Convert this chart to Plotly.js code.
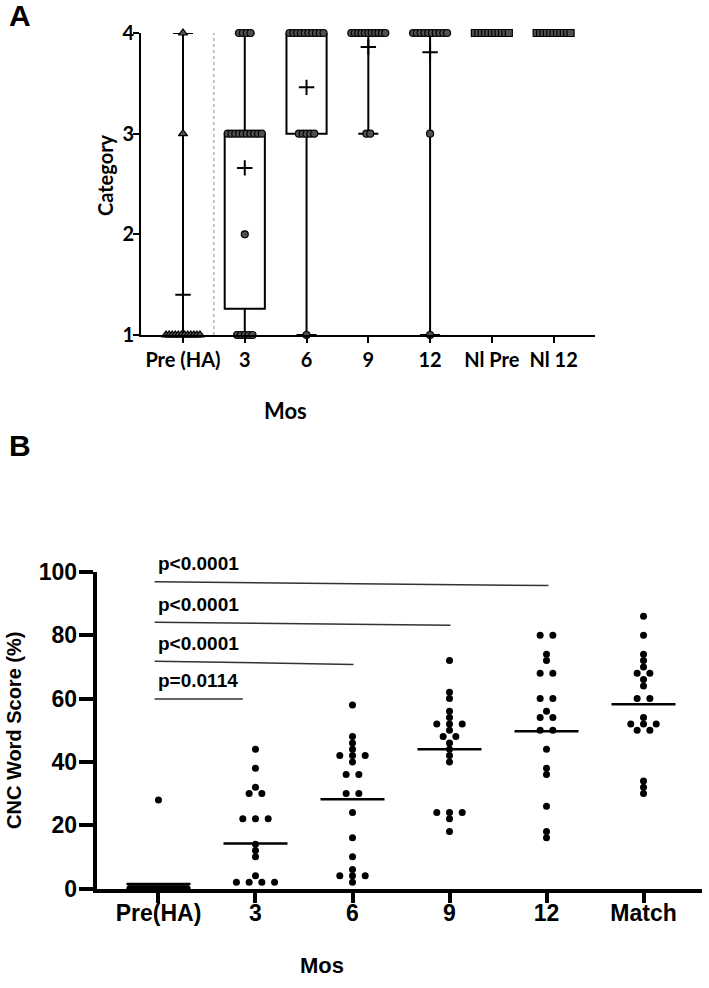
<!DOCTYPE html>
<html><head><meta charset="utf-8">
<script src="https://cdn.plot.ly/plotly-3.0.1.min.js"></script>
<style>html,body{margin:0;padding:0;background:#fff}</style>
</head><body><div id="chart" style="width:709px;height:988px"></div>
<script>
// ---------- Panel A data ----------
const catA = ["Pre (HA)", "3", "6", "9", "12", "Nl Pre", "Nl 12"];
const levelsA = [1, 2, 3, 4];
// number of subjects at category 1,2,3,4
const countsPre = [12, 0, 1, 1];
const counts3 = [5, 1, 10, 4];
const counts6 = [1, 0, 5, 10];
const counts9 = [0, 0, 2, 11];
const counts12 = [1, 0, 1, 10];
const countsNlPre = [0, 0, 0, 11];
const countsNl12 = [0, 0, 0, 11];
// box statistics (Pre, 3, 6, 9, 12)
const boxQ1 = [1, 1.26, 3, 4, 4];
const boxMedian = [1, 3, 4, 4, 4];
const boxQ3 = [1, 3, 4, 4, 4];
const boxLow = [1, 1, 1, 3, 1];
const boxHigh = [4, 4, 4, 4, 4];
const meanA = [1.4, 2.66, 3.46, 3.86, 3.81];

// ---------- Panel B data ----------
const catB = ["Pre(HA)", "3", "6", "9", "12", "Match"];
const scorePre = [28,0,0,0,0,0,0,0,0,0,0,0,0,0,0,0,0,0,0,0];
const score3 = [44,38,32,30,30,22,22,22,14,12,10,4,2,2,2,2];
const score6 = [58,48,46,44,42,42,42,40,36,36,30,30,24,16,10,6,4,4,4,2];
const score9 = [72,62,60,56,54,52,52,52,50,48,48,46,44,42,40,24,24,24,22,18];
const score12 = [80,80,74,72,68,68,60,60,56,54,54,50,50,44,38,36,26,18,16];
const scoreMatch = [86,80,74,72,70,68,68,66,64,60,60,54,52,52,52,50,50,34,32,30];
const meanB = [1.4, 14.2, 28.2, 44.0, 49.7, 58.2];
const sigLabels = ["p<0.0001", "p<0.0001", "p<0.0001", "p=0.0114"];
const sigYStart = [96.9, 84.1, 71.8, 59.9];
const sigYEnd = [95.7, 83.2, 70.8, 59.9];
const sigXEnd = [4.02, 3.01, 2.01, 0.87];

// ---------- helpers ----------
function expand(counts) {
  const v = [];
  counts.forEach((c, i) => { for (let k = 0; k < c; k++) v.push(levelsA[i]); });
  return v;
}
function swarm(values, center, step, maxSpan) {
  const groups = new Map();
  values.forEach(v => { if (!groups.has(v)) groups.set(v, 0); groups.set(v, groups.get(v) + 1); });
  const xs = [], ys = [];
  groups.forEach((n, v) => {
    let s = step;
    if (n > 1 && (n - 1) * s > maxSpan) s = maxSpan / (n - 1);
    for (let j = 0; j < n; j++) { xs.push(center + (j - (n - 1) / 2) * s); ys.push(v); }
  });
  return {xs, ys};
}

const traces = [];
const BLACK = "#000";
const GRAY = "rgb(80,80,80)";

// Panel A boxes
for (let i = 0; i < 5; i++) {
  traces.push({
    type: "box", x: [i], q1: [boxQ1[i]], median: [boxMedian[i]], q3: [boxQ3[i]],
    lowerfence: [boxLow[i]], upperfence: [boxHigh[i]],
    width: 0.65, whiskerwidth: 0.5, fillcolor: "white",
    line: {color: BLACK, width: 2}, boxpoints: false, hoverinfo: "skip",
    xaxis: "x", yaxis: "y"
  });
}
// Panel A points
const groupsA = [countsPre, counts3, counts6, counts9, counts12, countsNlPre, countsNl12];
const stepA = 0.062, spanA = 0.55;
groupsA.forEach((c, i) => {
  const s = swarm(expand(c), i, stepA, spanA);
  const sym = i === 0 ? "triangle-up" : (i >= 5 ? "square" : "circle");
  traces.push({
    type: "scatter", mode: "markers", x: s.xs, y: s.ys, cliponaxis: false,
    marker: {symbol: sym, size: i === 0 ? 8 : 7, color: GRAY, line: {color: BLACK, width: 1.2}},
    hoverinfo: "skip", xaxis: "x", yaxis: "y"
  });
});
// Panel A means
traces.push({
  type: "scatter", mode: "markers", x: meanA.map((m, i) => i), y: meanA, cliponaxis: false,
  marker: {symbol: "cross-thin", size: 11, color: BLACK, line: {color: BLACK, width: 2}},
  hoverinfo: "skip", xaxis: "x", yaxis: "y"
});

// Panel B points
const groupsB = [scorePre, score3, score6, score9, score12, scoreMatch];
const stepB = 0.131, spanB = 0.59;
groupsB.forEach((vals, i) => {
  const s = swarm(vals, i, stepB, spanB);
  traces.push({
    type: "scatter", mode: "markers", x: s.xs, y: s.ys, cliponaxis: false,
    marker: {symbol: "circle", size: 7, color: BLACK},
    hoverinfo: "skip", xaxis: "x2", yaxis: "y2"
  });
});
// Panel B mean lines
const mlx = [], mly = [];
meanB.forEach((m, i) => { mlx.push(i - 0.33, i + 0.33, null); mly.push(m, m, null); });
traces.push({type: "scatter", mode: "lines", x: mlx, y: mly, cliponaxis: false,
  line: {color: BLACK, width: 2.5}, hoverinfo: "skip", xaxis: "x2", yaxis: "y2"});
// significance lines
const slx = [], sly = [];
sigLabels.forEach((t, i) => { slx.push(-0.04, sigXEnd[i], null); sly.push(sigYStart[i], sigYEnd[i], null); });
traces.push({type: "scatter", mode: "lines", x: slx, y: sly, cliponaxis: false,
  line: {color: "#333", width: 1.5}, hoverinfo: "skip", xaxis: "x2", yaxis: "y2"});

const fA = "Lato, 'Open Sans', sans-serif";
const fB = "Arial, 'Liberation Sans', sans-serif";
const W = 709, H = 988;
const px = v => v / W, py = v => 1 - v / H;
function paperText(text, x, y, font, size, angle) {
  return {text: text, x: px(x), y: py(y), xref: "paper", yref: "paper", xanchor: "center", yanchor: "middle",
    showarrow: false, textangle: angle || 0, font: {family: font, size: size, weight: "bold", color: BLACK}};
}

const annotations = [
  paperText("A", 20, 15, fB, 30),
  paperText("B", 20, 445, fB, 30),
  paperText("Category", 105, 175, fA, 20, -90),
  paperText("Mos", 285, 410, fA, 22),
  paperText("CNC Word Score (%)", 14, 731, fB, 20, -90),
  paperText("Mos", 322, 965, fB, 22)
];
sigLabels.forEach((t, i) => {
  annotations.push({text: t, x: -0.03, y: sigYStart[i], xref: "x2", yref: "y2", xanchor: "left", yanchor: "middle",
    yshift: 18, showarrow: false, font: {family: fB, size: 19, weight: "bold", color: BLACK}});
});

const layout = {
  width: W, height: H, margin: {l: 0, r: 0, t: 0, b: 0},
  paper_bgcolor: "white", plot_bgcolor: "white", showlegend: false,
  xaxis: {domain: [px(141), px(595)], range: [-0.68, 6.67], anchor: "y",
    tickvals: catA.map((c, i) => i), ticktext: catA,
    showline: true, linecolor: BLACK, linewidth: 2, ticks: "outside", ticklen: 6, tickwidth: 2, tickcolor: BLACK,
    showgrid: false, zeroline: false, tickfont: {family: fA, size: 20, weight: "bold", color: BLACK}},
  yaxis: {domain: [py(335), py(33)], range: [1, 4], anchor: "x",
    tickvals: levelsA, showline: true, linecolor: BLACK, linewidth: 2, ticks: "outside", ticklen: 6, tickwidth: 2,
    tickcolor: BLACK, showgrid: false, zeroline: false, ticklabelstandoff: -5,
    tickfont: {family: fA, size: 20, weight: "bold", color: BLACK}},
  xaxis2: {domain: [px(96.7), px(702)], range: [-0.637, 5.603], anchor: "y2",
    tickvals: catB.map((c, i) => i), ticktext: catB,
    showline: true, linecolor: BLACK, linewidth: 4, ticks: "outside", ticklen: 10, tickwidth: 4, tickcolor: BLACK,
    ticklabelstandoff: -9,
    showgrid: false, zeroline: false, tickfont: {family: fB, size: 23, weight: "bold", color: BLACK}},
  yaxis2: {domain: [py(888.5), py(572)], range: [0, 100], anchor: "x2",
    tickvals: [0, 20, 40, 60, 80, 100], showline: true, linecolor: BLACK, linewidth: 4, ticks: "outside",
    ticklen: 14, tickwidth: 4, tickcolor: BLACK, showgrid: false, zeroline: false, ticklabelstandoff: -3,
    tickfont: {family: fB, size: 23, weight: "bold", color: BLACK}},
  shapes: [{type: "line", xref: "x", yref: "y", x0: 0.5, x1: 0.5, y0: 1, y1: 4,
    line: {color: "#888", width: 1, dash: "dot"}}],
  annotations: annotations
};

Plotly.newPlot("chart", traces, layout, {staticPlot: true});
</script></body></html>
